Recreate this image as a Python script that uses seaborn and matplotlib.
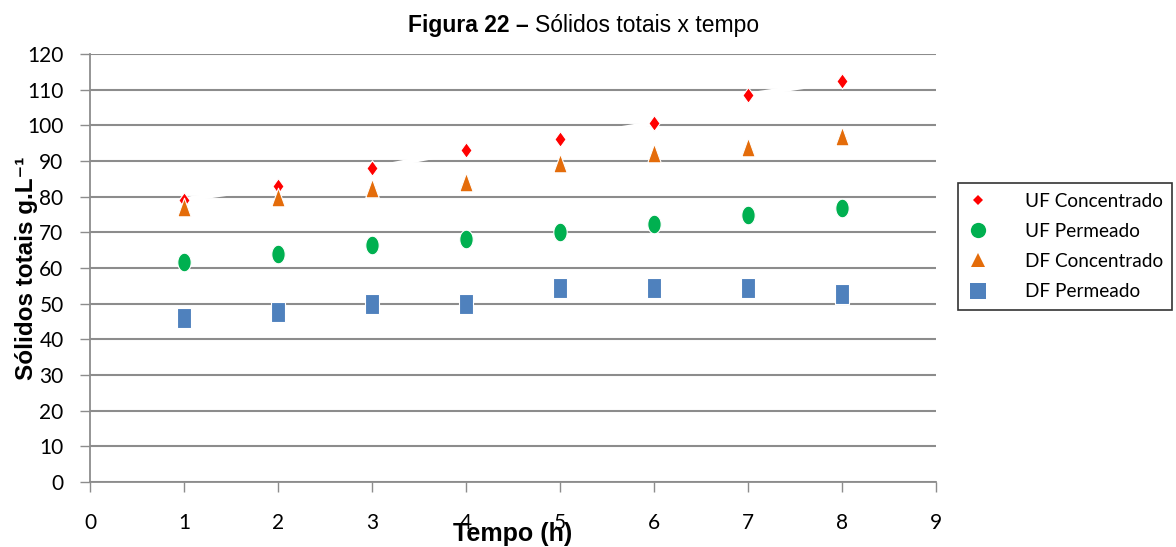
import numpy as np
import pandas as pd
import matplotlib
matplotlib.use("Agg")
import matplotlib.pyplot as plt
import seaborn as sns
from matplotlib.lines import Line2D

tempo = [1, 2, 3, 4, 5, 6, 7, 8]
uf_concentrado = [79.2, 82.9, 87.9, 93.0, 96.3, 100.6, 108.5, 112.5]
uf_permeado = [61.7, 63.8, 66.4, 68.2, 70.1, 72.4, 74.9, 76.9]
df_concentrado = [77.2, 80.0, 82.3, 84.2, 89.5, 92.3, 94.0, 97.1]
df_permeado = [46.0, 47.8, 50.0, 50.0, 54.3, 54.3, 54.3, 52.6]
series_names = ["UF Concentrado", "UF Permeado", "DF Concentrado", "DF Permeado"]
colors = ["#FF0000", "#00B050", "#E46C0A", "#4F81BD"]

sns.set_theme(style="white")
plt.rcParams['font.family'] = ['Liberation Sans', 'DejaVu Sans']
plt.rcParams['text.color'] = 'black'
plt.rcParams['axes.labelcolor'] = 'black'

fig = plt.figure(figsize=(11.76, 5.47), dpi=100)
ax = fig.add_axes([90/1176, 65/547, (936-90)/1176, (482-54)/547])

# elongated marker shapes (tall), as in reference
t = np.linspace(0, 2*np.pi, 60)
ellipse = list(zip(0.72*np.cos(t), np.sin(t)))
rect = [(-0.7, -1), (0.7, -1), (0.7, 1), (-0.7, 1), (-0.7, -1)]
tri = [(-0.72, -1), (0.72, -1), (0, 1), (-0.72, -1)]
diam = [(0, -1), (0.72, 0), (0, 1), (-0.72, 0), (0, -1)]

data = pd.DataFrame({"Tempo": tempo, series_names[0]: uf_concentrado,
                     series_names[1]: uf_permeado, series_names[2]: df_concentrado,
                     series_names[3]: df_permeado})

# white trend line through UF Concentrado
ax.plot(data["Tempo"], data[series_names[0]], color="white", lw=3.5, zorder=2.5)

markers = [diam, ellipse, tri, rect]
sizes = [125, 180, 180, 215]
for name, c, m, s in zip(series_names, colors, markers, sizes):
    sns.scatterplot(data=data, x="Tempo", y=name, color=c, marker=m, s=s,
                    edgecolor="white", linewidth=0.8, ax=ax, zorder=3, legend=False)

ax.set_xlim(0, 9)
ax.set_ylim(0, 120)
ax.set_xticks(range(0, 10))
ax.set_yticks(range(0, 121, 10))
ax.yaxis.grid(True, color="#8C8C8C", lw=1.5)
ax.set_axisbelow(True)
for sp in ["top", "right"]:
    ax.spines[sp].set_visible(False)
for sp in ["left", "bottom"]:
    ax.spines[sp].set_color("#8C8C8C")
    ax.spines[sp].set_linewidth(1.3)
ax.tick_params(axis="both", which="major", bottom=True, left=True, direction="out",
               length=7, width=1, color="#8C8C8C", labelsize=15, labelcolor="black")
for lab in ax.get_xticklabels() + ax.get_yticklabels():
    lab.set_family(["Lato", "DejaVu Sans"])
ax.tick_params(axis="x", pad=15)
ax.tick_params(axis="y", pad=12)
ax.set_xlabel("Tempo (h)", fontsize=18, fontweight="bold", labelpad=-7.5)
ax.set_ylabel("Sólidos totais g.L\u207b\u00b9", fontsize=17.5, fontweight="bold", labelpad=0)
ax.yaxis.set_label_coords(-0.062, 0.5)

# title
fig.text(0.455, 0.953, "Figura 22 \u2013 ", ha="right", va="center", fontsize=16.5, fontweight="bold")
fig.text(0.455, 0.953, "Sólidos totais x tempo", ha="left", va="center", fontsize=16.5)

# legend
handles = [Line2D([], [], ls="none", marker=m, color=c, markersize=ms, markeredgewidth=0)
           for m, c, ms in zip(["D", "o", "^", "s"], colors, [5, 11, 10, 12])]
leg = fig.legend(handles, series_names, loc="upper left",
                 bbox_to_anchor=(958/1176, 1 - 183/547), borderaxespad=0,
                 prop={"family": ["Lato", "DejaVu Sans"], "size": 13.7},
                 frameon=True, fancybox=False, edgecolor="black",
                 handletextpad=1.94, labelspacing=0.7, borderpad=0.5, handlelength=1.06)
leg.get_frame().set_linewidth(1.2)

fig.savefig("out.png", dpi=100)
